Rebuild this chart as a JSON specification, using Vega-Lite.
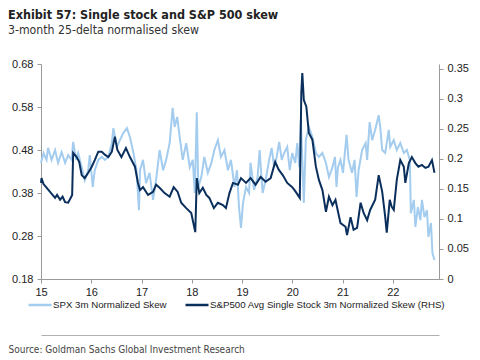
{
  "$schema": "https://vega.github.io/schema/vega-lite/v6.json",
  "width": 398,
  "height": 215,
  "autosize": {"type": "none"},
  "padding": {"left": 41, "top": 64, "right": 41, "bottom": 81},
  "background": "white",
  "title": {
    "text": "Exhibit 57: Single stock and S&P 500 skew",
    "subtitle": "3-month 25-delta normalised skew",
    "anchor": "start",
    "frame": "group",
    "dx": -33,
    "offset": 22,
    "font": "'DejaVu Sans Condensed', 'Liberation Sans', sans-serif",
    "fontSize": 12.5,
    "fontWeight": "bold",
    "color": "#222222",
    "subtitleFont": "'DejaVu Sans Condensed', 'Liberation Sans', sans-serif",
    "subtitleFontSize": 12.2,
    "subtitleColor": "#333333",
    "subtitlePadding": 2
  },
  "datasets": {
    "spx": [
      {"t": 15.00, "v": 0.450}, {"t": 15.05, "v": 0.473}, {"t": 15.11, "v": 0.457}, {"t": 15.14, "v": 0.485},
      {"t": 15.21, "v": 0.457}, {"t": 15.28, "v": 0.480}, {"t": 15.34, "v": 0.450}, {"t": 15.41, "v": 0.475},
      {"t": 15.48, "v": 0.450}, {"t": 15.54, "v": 0.468}, {"t": 15.61, "v": 0.457}, {"t": 15.64, "v": 0.499},
      {"t": 15.70, "v": 0.457}, {"t": 15.74, "v": 0.473}, {"t": 15.81, "v": 0.440}, {"t": 15.87, "v": 0.410},
      {"t": 15.94, "v": 0.433}, {"t": 15.97, "v": 0.468}, {"t": 16.03, "v": 0.394}, {"t": 16.07, "v": 0.433},
      {"t": 16.14, "v": 0.457}, {"t": 16.21, "v": 0.464}, {"t": 16.27, "v": 0.457}, {"t": 16.34, "v": 0.464},
      {"t": 16.41, "v": 0.496}, {"t": 16.44, "v": 0.531}, {"t": 16.51, "v": 0.487}, {"t": 16.57, "v": 0.503},
      {"t": 16.64, "v": 0.520}, {"t": 16.71, "v": 0.531}, {"t": 16.77, "v": 0.510}, {"t": 16.84, "v": 0.473},
      {"t": 16.90, "v": 0.433}, {"t": 16.95, "v": 0.340}, {"t": 16.97, "v": 0.433}, {"t": 17.03, "v": 0.457},
      {"t": 17.09, "v": 0.403}, {"t": 17.16, "v": 0.427}, {"t": 17.23, "v": 0.364}, {"t": 17.29, "v": 0.410},
      {"t": 17.36, "v": 0.480}, {"t": 17.43, "v": 0.433}, {"t": 17.49, "v": 0.457}, {"t": 17.56, "v": 0.496},
      {"t": 17.62, "v": 0.578}, {"t": 17.66, "v": 0.534}, {"t": 17.71, "v": 0.557}, {"t": 17.76, "v": 0.510},
      {"t": 17.82, "v": 0.457}, {"t": 17.89, "v": 0.496}, {"t": 17.96, "v": 0.440}, {"t": 18.02, "v": 0.457},
      {"t": 18.06, "v": 0.380}, {"t": 18.10, "v": 0.568}, {"t": 18.13, "v": 0.394}, {"t": 18.19, "v": 0.417},
      {"t": 18.25, "v": 0.464}, {"t": 18.32, "v": 0.427}, {"t": 18.39, "v": 0.450}, {"t": 18.45, "v": 0.480},
      {"t": 18.52, "v": 0.503}, {"t": 18.58, "v": 0.464}, {"t": 18.65, "v": 0.480}, {"t": 18.72, "v": 0.433},
      {"t": 18.78, "v": 0.457}, {"t": 18.85, "v": 0.394}, {"t": 18.90, "v": 0.433}, {"t": 18.94, "v": 0.347},
      {"t": 18.98, "v": 0.299}, {"t": 19.02, "v": 0.357}, {"t": 19.08, "v": 0.394}, {"t": 19.14, "v": 0.380},
      {"t": 19.17, "v": 0.450}, {"t": 19.24, "v": 0.387}, {"t": 19.31, "v": 0.417}, {"t": 19.35, "v": 0.480},
      {"t": 19.41, "v": 0.380}, {"t": 19.47, "v": 0.410}, {"t": 19.54, "v": 0.457}, {"t": 19.59, "v": 0.485},
      {"t": 19.64, "v": 0.440}, {"t": 19.69, "v": 0.464}, {"t": 19.74, "v": 0.499}, {"t": 19.79, "v": 0.457},
      {"t": 19.84, "v": 0.473}, {"t": 19.90, "v": 0.487}, {"t": 19.95, "v": 0.433}, {"t": 20.00, "v": 0.473},
      {"t": 20.06, "v": 0.450}, {"t": 20.10, "v": 0.496}, {"t": 20.14, "v": 0.440}, {"t": 20.17, "v": 0.550},
      {"t": 20.20, "v": 0.457}, {"t": 20.23, "v": 0.357}, {"t": 20.27, "v": 0.503}, {"t": 20.33, "v": 0.534},
      {"t": 20.40, "v": 0.510}, {"t": 20.47, "v": 0.473}, {"t": 20.53, "v": 0.464}, {"t": 20.60, "v": 0.473},
      {"t": 20.67, "v": 0.450}, {"t": 20.73, "v": 0.417}, {"t": 20.80, "v": 0.440}, {"t": 20.85, "v": 0.464},
      {"t": 20.88, "v": 0.394}, {"t": 20.91, "v": 0.440}, {"t": 20.96, "v": 0.457}, {"t": 21.01, "v": 0.427},
      {"t": 21.08, "v": 0.515}, {"t": 21.12, "v": 0.457}, {"t": 21.19, "v": 0.427}, {"t": 21.24, "v": 0.457},
      {"t": 21.28, "v": 0.371}, {"t": 21.32, "v": 0.433}, {"t": 21.39, "v": 0.480}, {"t": 21.46, "v": 0.496},
      {"t": 21.49, "v": 0.457}, {"t": 21.54, "v": 0.545}, {"t": 21.59, "v": 0.503}, {"t": 21.65, "v": 0.527},
      {"t": 21.72, "v": 0.561}, {"t": 21.75, "v": 0.534}, {"t": 21.79, "v": 0.480}, {"t": 21.85, "v": 0.473},
      {"t": 21.92, "v": 0.527}, {"t": 21.95, "v": 0.487}, {"t": 22.02, "v": 0.503}, {"t": 22.08, "v": 0.480},
      {"t": 22.15, "v": 0.496}, {"t": 22.22, "v": 0.473}, {"t": 22.28, "v": 0.480}, {"t": 22.34, "v": 0.457},
      {"t": 22.36, "v": 0.333}, {"t": 22.42, "v": 0.364}, {"t": 22.45, "v": 0.301}, {"t": 22.50, "v": 0.347},
      {"t": 22.55, "v": 0.317}, {"t": 22.58, "v": 0.364}, {"t": 22.63, "v": 0.324}, {"t": 22.68, "v": 0.340},
      {"t": 22.71, "v": 0.278}, {"t": 22.76, "v": 0.310}, {"t": 22.79, "v": 0.240}, {"t": 22.83, "v": 0.224}
    ],
    "ss": [
      {"t": 15.00, "v": 0.160}, {"t": 15.01, "v": 0.168}, {"t": 15.05, "v": 0.158}, {"t": 15.11, "v": 0.152},
      {"t": 15.18, "v": 0.145}, {"t": 15.28, "v": 0.135}, {"t": 15.32, "v": 0.140}, {"t": 15.38, "v": 0.132},
      {"t": 15.43, "v": 0.137}, {"t": 15.48, "v": 0.128}, {"t": 15.54, "v": 0.127}, {"t": 15.59, "v": 0.135},
      {"t": 15.62, "v": 0.140}, {"t": 15.64, "v": 0.210}, {"t": 15.71, "v": 0.203}, {"t": 15.76, "v": 0.195},
      {"t": 15.81, "v": 0.173}, {"t": 15.87, "v": 0.168}, {"t": 15.94, "v": 0.177}, {"t": 16.01, "v": 0.187},
      {"t": 16.07, "v": 0.198}, {"t": 16.14, "v": 0.212}, {"t": 16.21, "v": 0.212}, {"t": 16.27, "v": 0.207},
      {"t": 16.34, "v": 0.203}, {"t": 16.41, "v": 0.212}, {"t": 16.47, "v": 0.237}, {"t": 16.52, "v": 0.215},
      {"t": 16.60, "v": 0.203}, {"t": 16.69, "v": 0.218}, {"t": 16.77, "v": 0.203}, {"t": 16.87, "v": 0.187},
      {"t": 16.93, "v": 0.160}, {"t": 16.97, "v": 0.148}, {"t": 17.03, "v": 0.153}, {"t": 17.13, "v": 0.140},
      {"t": 17.23, "v": 0.145}, {"t": 17.29, "v": 0.157}, {"t": 17.36, "v": 0.152}, {"t": 17.46, "v": 0.143},
      {"t": 17.56, "v": 0.137}, {"t": 17.64, "v": 0.153}, {"t": 17.72, "v": 0.145}, {"t": 17.79, "v": 0.127},
      {"t": 17.89, "v": 0.118}, {"t": 17.99, "v": 0.110}, {"t": 18.07, "v": 0.078}, {"t": 18.10, "v": 0.168},
      {"t": 18.15, "v": 0.143}, {"t": 18.22, "v": 0.152}, {"t": 18.29, "v": 0.140}, {"t": 18.35, "v": 0.135},
      {"t": 18.44, "v": 0.118}, {"t": 18.52, "v": 0.127}, {"t": 18.62, "v": 0.123}, {"t": 18.68, "v": 0.118},
      {"t": 18.75, "v": 0.143}, {"t": 18.82, "v": 0.160}, {"t": 18.92, "v": 0.157}, {"t": 18.98, "v": 0.168},
      {"t": 19.08, "v": 0.160}, {"t": 19.17, "v": 0.168}, {"t": 19.27, "v": 0.157}, {"t": 19.37, "v": 0.170},
      {"t": 19.47, "v": 0.162}, {"t": 19.57, "v": 0.168}, {"t": 19.66, "v": 0.195}, {"t": 19.73, "v": 0.182},
      {"t": 19.81, "v": 0.173}, {"t": 19.90, "v": 0.160}, {"t": 20.00, "v": 0.153}, {"t": 20.07, "v": 0.145},
      {"t": 20.15, "v": 0.135}, {"t": 20.18, "v": 0.310}, {"t": 20.20, "v": 0.343}, {"t": 20.23, "v": 0.298},
      {"t": 20.28, "v": 0.287}, {"t": 20.33, "v": 0.243}, {"t": 20.40, "v": 0.232}, {"t": 20.47, "v": 0.187},
      {"t": 20.53, "v": 0.165}, {"t": 20.60, "v": 0.148}, {"t": 20.67, "v": 0.112}, {"t": 20.73, "v": 0.137},
      {"t": 20.80, "v": 0.123}, {"t": 20.86, "v": 0.132}, {"t": 20.89, "v": 0.120}, {"t": 20.96, "v": 0.093},
      {"t": 21.06, "v": 0.087}, {"t": 21.09, "v": 0.073}, {"t": 21.16, "v": 0.103}, {"t": 21.22, "v": 0.082},
      {"t": 21.29, "v": 0.085}, {"t": 21.36, "v": 0.127}, {"t": 21.42, "v": 0.110}, {"t": 21.49, "v": 0.098},
      {"t": 21.55, "v": 0.115}, {"t": 21.65, "v": 0.132}, {"t": 21.72, "v": 0.173}, {"t": 21.79, "v": 0.145},
      {"t": 21.85, "v": 0.103}, {"t": 21.88, "v": 0.077}, {"t": 21.94, "v": 0.132}, {"t": 21.98, "v": 0.120},
      {"t": 22.02, "v": 0.115}, {"t": 22.08, "v": 0.165}, {"t": 22.15, "v": 0.198}, {"t": 22.22, "v": 0.187},
      {"t": 22.25, "v": 0.160}, {"t": 22.32, "v": 0.193}, {"t": 22.38, "v": 0.203}, {"t": 22.45, "v": 0.193},
      {"t": 22.51, "v": 0.187}, {"t": 22.58, "v": 0.190}, {"t": 22.65, "v": 0.185}, {"t": 22.71, "v": 0.187},
      {"t": 22.78, "v": 0.198}, {"t": 22.83, "v": 0.177}
    ]
  },
  "config": {
    "view": {"stroke": null},
    "axis": {
      "domainColor": "#9a9a9a",
      "tickColor": "#9a9a9a",
      "tickSize": 4,
      "grid": false,
      "labelFont": "Liberation Sans",
      "labelFontSize": 11,
      "labelColor": "#222222",
      "title": null
    },
    "legend": {
      "orient": "none",
      "legendX": -14,
      "legendY": 228,
      "direction": "horizontal",
      "symbolType": "stroke",
      "symbolSize": 529,
      "symbolStrokeWidth": 2.5,
      "labelFont": "Liberation Sans",
      "labelFontSize": 9.7,
      "labelColor": "#222222",
      "labelOffset": 0,
      "labelLimit": 400,
      "columnPadding": 13,
      "title": null
    }
  },
  "layer": [
    {
      "data": {"name": "spx"},
      "mark": {"type": "line", "strokeWidth": 2},
      "encoding": {
        "x": {
          "field": "t", "type": "quantitative",
          "scale": {"domain": [15, 22.92], "nice": false, "zero": false},
          "axis": {"values": [15, 16, 17, 18, 19, 20, 21, 22], "format": "d", "labelFlush": false, "labelPadding": 3}
        },
        "y": {
          "field": "v", "type": "quantitative",
          "scale": {"domain": [0.18, 0.68], "nice": false, "zero": false},
          "axis": {"orient": "left", "values": [0.18, 0.28, 0.38, 0.48, 0.58, 0.68], "format": ".2f", "labelPadding": 4}
        },
        "color": {
          "datum": "SPX 3m Normalized Skew",
          "type": "nominal",
          "scale": {
            "domain": ["SPX 3m Normalized Skew", "S&P500 Avg Single Stock 3m Normalized Skew (RHS)"],
            "range": ["#A3CCEE", "#0A2F5C"]
          },
          "legend": {"title": null}
        }
      }
    },
    {
      "data": {"name": "ss"},
      "mark": {"type": "line", "strokeWidth": 2},
      "encoding": {
        "x": {
          "field": "t", "type": "quantitative",
          "axis": {
            "orient": "bottom", "offset": 56, "labels": false, "ticks": false,
            "domainColor": "#b0b0b0",
            "title": "Source: Goldman Sachs Global Investment Research",
            "titleFont": "'DejaVu Sans Condensed', 'Liberation Sans', sans-serif", "titleFontSize": 10, "titleFontWeight": "normal",
            "titleColor": "#444444", "titleAnchor": "start", "titleAlign": "left",
            "titleX": -33, "titleY": 17, "titleBaseline": "alphabetic"
          }
        },
        "y": {
          "field": "v", "type": "quantitative",
          "scale": {"domain": [0, 0.358], "nice": false, "zero": false},
          "axis": {"orient": "right", "values": [0, 0.05, 0.1, 0.15, 0.2, 0.25, 0.3, 0.35], "format": ".2~f", "labelPadding": 4}
        },
        "color": {"datum": "S&P500 Avg Single Stock 3m Normalized Skew (RHS)", "type": "nominal"}
      }
    }
  ],
  "resolve": {"scale": {"y": "independent"}, "axis": {"x": "independent"}}
}
